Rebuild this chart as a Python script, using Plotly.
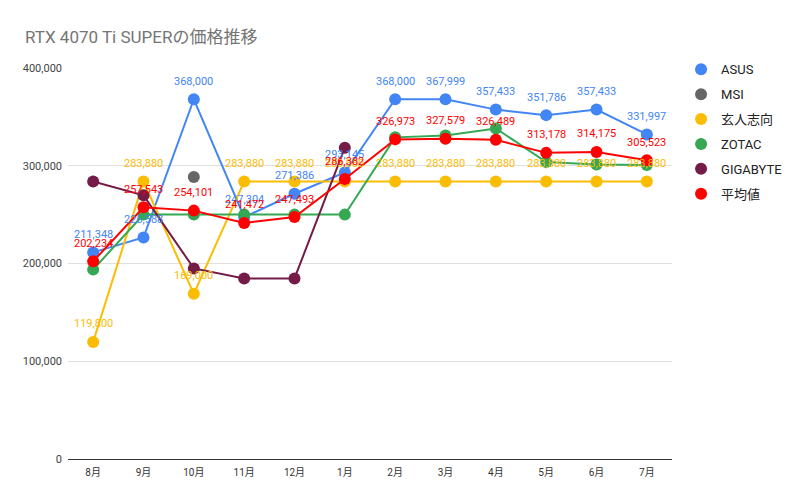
import plotly.graph_objects as go

months = ["8月", "9月", "10月", "11月", "12月", "1月", "2月", "3月", "4月", "5月", "6月", "7月"]
asus = [211348, 226588, 368000, 247304, 271386, 293145, 368000, 367999, 357433, 351786, 357433, 331997]
msi = [None, None, 288505, None, None, None, None, None, None, None, None, None]
kuroto = [119800, 283880, 169000, 283880, 283880, 283880, 283880, 283880, 283880, 283880, 283880, 283880]
zotac = [193900, 250000, 250000, 250000, 250000, 250000, 329039, 330858, 338154, 303868, 301212, 300692]
gigabyte = [283888, 269704, 195000, 184704, 184706, 318503, None, None, None, None, None, None]
average = [202234, 257543, 254101, 241472, 247493, 286382, 326973, 327579, 326489, 313178, 314175, 305523]

series = [
    ("ASUS", asus, "#4285F4", True),
    ("MSI", msi, "#666666", False),
    ("玄人志向", kuroto, "#FBBC04", True),
    ("ZOTAC", zotac, "#34A853", False),
    ("GIGABYTE", gigabyte, "#741B47", False),
    ("平均値", average, "#FF0000", True),
]

FONT = "Roboto, 'Noto Sans CJK JP', sans-serif"

fig = go.Figure()
for name, vals, color, _ in series:
    fig.add_trace(go.Scatter(
        x=months, y=vals, name=name, mode="lines+markers",
        line=dict(color=color, width=2),
        marker=dict(color=color, size=12),
        showlegend=False, connectgaps=False, hoverinfo="skip",
    ))
# legend entries
for name, vals, color, _ in series:
    fig.add_trace(go.Scatter(
        x=[None], y=[None], name=name, mode="markers", legendgroup=name,
        marker=dict(color=color, size=10), showlegend=True,
    ))

annotations = []
for name, vals, color, labeled in series:
    if not labeled:
        continue
    for m, v in zip(months, vals):
        if v is None:
            continue
        annotations.append(dict(
            x=m, y=v, xref="x", yref="y", text=f"{v:,}", showarrow=False,
            yshift=18, font=dict(color=color, size=11, family=FONT),
        ))

fig.update_layout(
    width=812, height=502,
    margin=dict(l=68, r=140, t=68, b=43),
    paper_bgcolor="white", plot_bgcolor="white",
    title=dict(text="RTX 4070 Ti SUPERの価格推移", x=25 / 812, xanchor="left",
               y=1 - 37 / 502, yanchor="middle",
               font=dict(size=17, color="#757575", family=FONT)),
    legend=dict(x=1.015, xanchor="left", y=1.035, yanchor="top",
                font=dict(size=13, color="#222222", family=FONT),
                tracegroupgap=5, itemsizing="constant"),
    font=dict(family=FONT),
    annotations=annotations,
)
fig.update_xaxes(
    type="category", range=[-0.5, 11.5], showgrid=False,
    showline=True, linecolor="#333333", linewidth=1,
    tickfont=dict(size=10, color="#333333", family=FONT),
    ticks="", ticklabelstandoff=4,
)
fig.update_yaxes(
    range=[0, 400000], tickvals=[0, 100000, 200000, 300000, 400000],
    ticktext=["0", "100,000", "200,000", "300,000", "400,000"],
    showgrid=True, gridcolor="#E0E0E0", gridwidth=1,
    zeroline=True, zerolinecolor="#333333", zerolinewidth=1,
    tickfont=dict(size=11, color="#444444", family=FONT),
    ticks="", ticklabelstandoff=5,
)

fig.write_html("out.html")
